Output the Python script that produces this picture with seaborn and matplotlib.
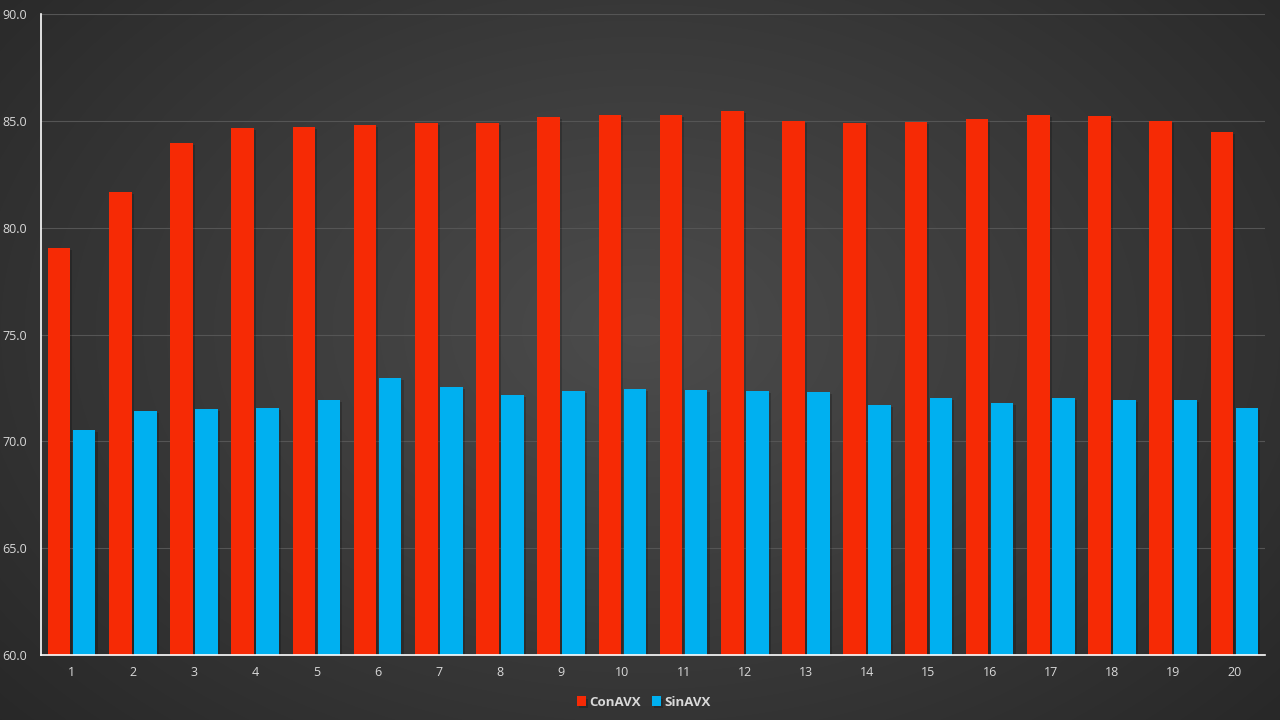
import numpy as np
import pandas as pd
import matplotlib
matplotlib.use("Agg")
import matplotlib.pyplot as plt
import matplotlib.patheffects as pe
import seaborn as sns

categories = [str(i) for i in range(1, 21)]
con_avx = [79.05, 81.67, 83.96, 84.66, 84.70, 84.80, 84.90, 84.90, 85.18, 85.27,
           85.27, 85.46, 84.99, 84.90, 84.94, 85.08, 85.27, 85.22, 84.99, 84.47]
sin_avx = [70.53, 71.42, 71.51, 71.56, 71.93, 72.96, 72.54, 72.17, 72.35, 72.45,
           72.40, 72.35, 72.31, 71.70, 72.03, 71.79, 72.03, 71.93, 71.93, 71.56]
series_names = ["ConAVX", "SinAVX"]
y_ticks = [60.0, 65.0, 70.0, 75.0, 80.0, 85.0, 90.0]

df = pd.DataFrame({
    "cat": categories * 2,
    "val": con_avx + sin_avx,
    "serie": [series_names[0]] * 20 + [series_names[1]] * 20,
})

sns.set_theme(style="dark")
plt.rcParams["font.family"] = ["Open Sans", "DejaVu Sans"]

fig = plt.figure(figsize=(12.8, 7.2), dpi=100)

# radial gradient background
bg = fig.add_axes([0, 0, 1, 1], zorder=0)
yy, xx = np.mgrid[0:720, 0:1280]
r = np.sqrt(((xx - 640) / 900) ** 2 + ((yy - 330) / 620) ** 2)
r = np.clip(r, 0, 1)
c0, c1 = 0x4c / 255, 0x26 / 255
img = c0 + (c1 - c0) * r
bg.imshow(np.dstack([img, img, img]), aspect="auto", extent=[0, 1, 0, 1])
bg.axis("off")

ax = fig.add_axes([41 / 1280, 1 - 655 / 720, (1265 - 41) / 1280, (655 - 14) / 720], zorder=1)
ax.patch.set_alpha(0)

sns.barplot(data=df, x="cat", y="val", hue="serie", ax=ax,
            palette=["#F62A05", "#00B0F0"], width=0.82, gap=0.1,
            saturation=1, linewidth=0, legend=True)

for p in ax.patches:
    p.set_path_effects([pe.SimplePatchShadow(offset=(1.5, -1.5), shadow_rgbFace="black", alpha=0.2),
                        pe.Normal()])

ax.set_ylim(60, 90)
ax.set_xlim(-0.5, 19.5)
ax.set_yticks(y_ticks)
ax.set_yticklabels([f"{t:.1f}" for t in y_ticks])
ax.grid(axis="y", color="#555555", linewidth=0.8)
ax.grid(axis="x", visible=False)
ax.set_axisbelow(True)
ax.set_xlabel("")
ax.set_ylabel("")
for s in ["top", "right"]:
    ax.spines[s].set_visible(False)
for s in ["left", "bottom"]:
    ax.spines[s].set_visible(True)
    ax.spines[s].set_color("white")
    ax.spines[s].set_linewidth(1.2)
ax.tick_params(axis="both", colors="#d9d9d9", labelsize=9, length=0)
ax.tick_params(axis="x", pad=8)
ax.tick_params(axis="y", pad=10)

leg = ax.legend(loc="upper center", bbox_to_anchor=(0.4925, -0.045), ncol=2, frameon=False,
                handlelength=0.7, handleheight=0.7, handletextpad=0.25, columnspacing=0.8,
                prop={"weight": "bold", "size": 9.5})
for t in leg.get_texts():
    t.set_color("#d9d9d9")

fig.savefig("out.png", dpi=100)
